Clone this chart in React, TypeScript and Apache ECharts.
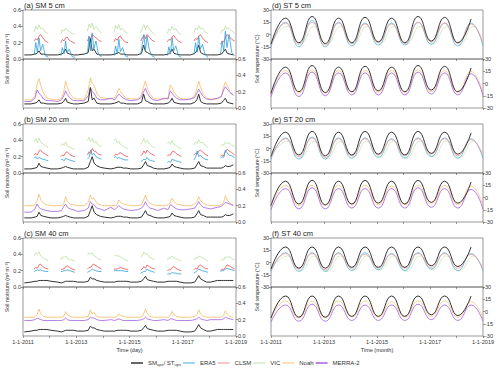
import React, { useEffect, useRef } from 'react';
import * as echarts from 'echarts';

const FONT = 'Liberation Sans, Arial, Helvetica, sans-serif';

// ---------- time positions (year - 2000) ----------
const YEARS = [11, 12, 13, 14, 15, 16, 17, 18];
// sample positions inside a year for warm-season (unfrozen) model segments
const EP_X = [0.42, 0.48, 0.54, 0.6, 0.66, 0.74, 0.84, 0.95];
// sample positions inside a year for continuous series
const CO_X = [0.05, 0.3, 0.45, 0.53, 0.6, 0.67, 0.77, 0.9];
// soil temperature: start, then alternating summer peak / winter trough, end
const ST_X = [11, 11.55, 12.05, 12.55, 13.05, 13.55, 14.05, 14.55, 15.05, 15.55, 16.05, 16.55, 17.05, 17.55, 18.05, 18.55, 19];
const X_TICK_LABELS = ['1-1-2011', '1-1-2013', '1-1-2015', '1-1-2017', '1-1-2019'];

// ---------- soil moisture, 5 cm (hundredths of m3 m-3), one row per year ----------
const vic5 = [
  [33, 40, 36, 42, 37, 38, 33, 31], [31, 36, 34, 38, 35, 34, 31, 30], [34, 43, 38, 44, 36, 40, 35, 32], [33, 41, 37, 42, 36, 37, 33, 31],
  [32, 38, 42, 36, 41, 37, 33, 30], [31, 37, 35, 40, 36, 37, 32, 30], [32, 38, 36, 41, 37, 38, 33, 31], [31, 36, 35, 40, 37, 38, 34, 32]];
const clsm5 = [
  [22, 25, 23, 28, 30, 26, 22, 20], [20, 24, 22, 26, 27, 23, 21, 19], [22, 27, 25, 30, 28, 26, 23, 21], [21, 25, 23, 27, 28, 24, 21, 20],
  [22, 26, 29, 25, 30, 27, 23, 21], [21, 24, 23, 27, 29, 25, 22, 20], [22, 25, 24, 28, 30, 26, 22, 20], [18, 22, 21, 26, 30, 28, 24, 22]];
const era5_5 = [
  [5, 20, 8, 26, 10, 18, 4, 2], [4, 14, 6, 22, 8, 12, 3, 2], [6, 28, 10, 32, 12, 22, 5, 3], [4, 16, 6, 24, 9, 14, 4, 2],
  [5, 18, 30, 10, 28, 12, 4, 2], [4, 15, 6, 26, 10, 16, 4, 2], [5, 20, 8, 28, 12, 18, 5, 2], [6, 22, 10, 34, 14, 30, 8, 4]];
const obs5 = [
  [5, 5, 6, 7, 10, 6, 6, 5], [5, 5, 6, 8, 12, 7, 6, 5], [5, 6, 8, 25, 10, 12, 6, 5], [5, 5, 6, 7, 8, 6, 6, 5],
  [5, 5, 7, 17, 9, 8, 6, 5], [5, 5, 6, 8, 12, 7, 6, 5], [5, 5, 7, 10, 17, 8, 6, 5], [5, 5, 6, 9, 12, 7, 6, 5]];
const noah5 = [
  [10, 10, 14, 30, 36, 27, 18, 12], [11, 10, 12, 20, 33, 25, 17, 12], [11, 11, 22, 37, 30, 28, 18, 13], [12, 11, 13, 18, 24, 20, 15, 12],
  [11, 11, 16, 26, 33, 24, 17, 12], [11, 11, 13, 28, 25, 20, 15, 12], [11, 11, 15, 24, 33, 25, 17, 12], [11, 11, 14, 25, 32, 28, 20, 15]];
const merra5 = [
  [8, 8, 12, 22, 18, 16, 11, 9], [9, 8, 10, 15, 21, 16, 12, 9], [9, 9, 15, 25, 20, 18, 12, 10], [10, 12, 10, 14, 17, 15, 12, 10],
  [9, 10, 13, 20, 24, 18, 13, 10], [9, 12, 11, 21, 18, 15, 12, 10], [10, 11, 13, 18, 23, 19, 14, 11], [10, 12, 14, 22, 26, 23, 19, 16]];

// ---------- soil moisture, 20 cm ----------
const vic20 = [
  [38, 42, 37, 43, 38, 36, 33, 31], [33, 36, 34, 38, 33, 32, 30, 29], [40, 44, 38, 42, 37, 39, 34, 32], [40, 42, 37, 39, 35, 33, 31, 30],
  [35, 38, 42, 37, 40, 36, 33, 31], [36, 38, 35, 40, 35, 34, 31, 30], [34, 38, 36, 41, 37, 38, 34, 31], [33, 35, 34, 38, 36, 37, 34, 32]];
const clsm20 = [
  [22, 24, 22, 27, 28, 25, 23, 21], [20, 22, 21, 25, 26, 23, 21, 20], [22, 26, 24, 30, 27, 26, 23, 22], [21, 23, 22, 24, 25, 23, 21, 20],
  [21, 23, 27, 24, 28, 25, 23, 21], [21, 22, 22, 26, 27, 24, 22, 20], [22, 24, 23, 27, 28, 26, 23, 21], [20, 22, 21, 26, 29, 27, 25, 22]];
const era20 = [
  [18, 20, 17, 19, 18, 17, 16, 15], [16, 17, 15, 18, 17, 16, 15, 14], [17, 19, 28, 22, 24, 20, 18, 17], [19, 20, 18, 19, 18, 17, 16, 16],
  [14, 15, 17, 16, 19, 16, 15, 14], [13, 14, 13, 17, 16, 15, 14, 13], [16, 19, 27, 20, 22, 19, 17, 16], [18, 20, 19, 28, 25, 22, 21, 19]];
const obs20 = [
  [5, 5, 6, 7, 12, 8, 7, 6], [5, 5, 6, 7, 8, 7, 6, 5], [5, 5, 7, 14, 20, 12, 9, 7], [6, 5, 6, 7, 7, 7, 6, 6],
  [5, 5, 6, 10, 14, 9, 8, 6], [5, 5, 6, 7, 11, 8, 7, 6], [5, 5, 6, 10, 14, 9, 8, 6], [6, 6, 6, 7, 9, 8, 8, 10]];
const noah20 = [
  [20, 20, 21, 26, 34, 27, 23, 21], [20, 20, 20, 22, 31, 25, 22, 21], [20, 20, 24, 33, 28, 29, 23, 21], [20, 20, 20, 21, 27, 24, 22, 21],
  [20, 20, 21, 27, 33, 26, 23, 21], [20, 20, 21, 24, 29, 25, 22, 21], [20, 20, 22, 25, 31, 26, 23, 21], [20, 20, 21, 24, 32, 27, 23, 21]];
const merra20 = [
  [12, 12, 16, 22, 18, 16, 15, 14], [13, 13, 14, 19, 22, 18, 16, 15], [13, 14, 17, 25, 22, 21, 17, 16], [14, 18, 15, 18, 20, 18, 16, 15],
  [14, 15, 17, 20, 25, 20, 17, 16], [14, 17, 15, 21, 20, 18, 16, 15], [15, 16, 17, 21, 25, 21, 18, 17], [16, 18, 19, 22, 24, 23, 22, 20]];

// ---------- soil moisture, 40 cm ----------
const vic40 = [
  [38, 42, 40, 43, 38, 36, 34, 32], [33, 37, 36, 38, 35, 34, 33, 32], [39, 42, 40, 42, 38, 37, 34, 33], [38, 39, 38, 38, 37, 35, 33, 32],
  [36, 38, 43, 40, 41, 37, 35, 33], [33, 36, 35, 38, 36, 35, 33, 32], [33, 36, 35, 38, 37, 36, 34, 32], [32, 34, 33, 37, 36, 37, 35, 33]];
const clsm40 = [
  [22, 24, 23, 27, 28, 25, 23, 22], [21, 22, 22, 25, 26, 24, 22, 21], [22, 24, 24, 27, 28, 26, 24, 22], [22, 22, 22, 23, 24, 23, 22, 21],
  [21, 22, 25, 23, 27, 25, 23, 22], [20, 21, 21, 24, 25, 23, 21, 20], [21, 23, 22, 26, 27, 25, 23, 22], [20, 22, 21, 24, 27, 26, 24, 22]];
const era40 = [
  [19, 20, 21, 20, 21, 20, 19, 19], [19, 19, 20, 20, 21, 20, 19, 18], [18, 19, 20, 22, 21, 20, 19, 19], [20, 20, 20, 20, 20, 20, 19, 19],
  [17, 18, 19, 19, 22, 20, 19, 18], [16, 16, 16, 18, 17, 17, 16, 16], [17, 18, 20, 22, 21, 20, 19, 18], [19, 20, 20, 22, 23, 22, 21, 20]];
const obs40 = [
  [5, 6, 7, 7, 8, 8, 8, 8], [7, 6, 5, 6, 7, 7, 7, 7], [6, 6, 7, 12, 10, 10, 8, 7], [6, 6, 6, 7, 7, 7, 7, 7],
  [6, 6, 7, 10, 13, 9, 8, 7], [6, 6, 7, 7, 7, 7, 7, 6], [5, 5, 6, 10, 14, 10, 8, 6], [6, 8, 8, 8, 8, 8, 8, 8]];
const noah40 = [
  [23, 23, 23, 26, 33, 27, 24, 23], [23, 23, 23, 24, 30, 26, 24, 23], [23, 23, 24, 32, 27, 29, 24, 23], [23, 23, 23, 24, 27, 25, 24, 23],
  [23, 23, 23, 27, 33, 27, 24, 23], [23, 23, 23, 25, 30, 26, 24, 23], [23, 23, 24, 26, 32, 27, 24, 23], [23, 23, 23, 25, 31, 27, 24, 23]];
const merra40 = [
  [19, 19, 20, 22, 21, 20, 19, 19], [19, 19, 19, 20, 22, 20, 19, 19], [19, 19, 20, 23, 22, 22, 20, 19], [19, 20, 19, 20, 21, 20, 19, 19],
  [19, 19, 20, 21, 23, 21, 20, 19], [19, 20, 19, 21, 21, 20, 19, 19], [19, 19, 20, 21, 23, 21, 20, 19], [20, 20, 20, 21, 23, 22, 21, 20]];

// ---------- soil temperature (°C) at ST_X positions ----------
const obsT5 = [-12, 20, -10, 22, -11, 20, -10, 21, -9, 20, -10, 22, -8, 21, -10, 19, '-'];
const eraT5 = [-15, 15, -15, 17, -15, 15, -14, 14, -13, 14, -13, 15, -12, 14, -14, 14, -14];
const clsmT5 = [-13, 14, -12, 15, -13, 14, -11, 13, -10, 13, -11, 15, -9, 14, -11, 13, -11];
const vicT5 = [-10, 10, -12, 10, -12, 10, -11, 10, -11, 10, -12, 10, -11, 10, -12, 10, -12];
const noahT5 = [-13, 16, -12, 17, -12, 16, -11, 16, -11, 16, -11, 17, -10, 16, -11, 15, -12];
const merraT5 = [-16, 13, -16, 14, -15, 13, -14, 13, -14, 13, -14, 14, -13, 13, -14, 12, -15];

const obsT20 = [-10, 20, -8, 21, -9, 20, -8, 21, -7, 20, -8, 21, -6, 20, -7, 19, '-'];
const eraT20 = [-13, 13, -13, 14, -13, 13, -12, 13, -11, 12, -12, 13, -10, 13, -12, 12, -12];
const clsmT20 = [-11, 12, -10, 13, -11, 12, -9, 12, -8, 11, -9, 12, -7, 12, -9, 11, -9];
const vicT20 = [-9, 9, -11, 9, -12, 9, -10, 9, -10, 9, -12, 9, -10, 9, -11, 9, -11];
const noahT20 = [-11, 15, -10, 15, -10, 15, -9, 15, -9, 14, -9, 15, -8, 15, -9, 14, -10];
const merraT20 = [-15, 11, -14, 12, -14, 11, -13, 11, -13, 11, -13, 12, -12, 11, -13, 10, -14];

const obsT40 = [-8, 19, -7, 19, -7, 19, -6, 19, -6, 19, -6, 19, -4, 19, -5, 19, '-'];
const eraT40 = [-11, 12, -11, 12, -11, 12, -10, 12, -9, 11, -10, 12, -8, 12, -10, 11, -10];
const clsmT40 = [-9, 11, -8, 11, -9, 11, -7, 10, -7, 10, -7, 11, -6, 11, -7, 10, -8];
const vicT40 = [-8, 8, -10, 8, -11, 8, -9, 8, -9, 8, -11, 8, -9, 8, -10, 8, -10];
const noahT40 = [-9, 13, -8, 13, -8, 13, -7, 13, -7, 12, -7, 13, -6, 13, -7, 12, -8];
const merraT40 = [-13, 8, -12, 9, -12, 8, -11, 8, -11, 8, -11, 9, -10, 8, -11, 8, -12];

const SM_TITLES = ['(a) SM 5 cm', '(b) SM 20 cm', '(c) SM 40 cm'];
const ST_TITLES = ['(d) ST 5 cm', '(e) ST 20 cm', '(f) ST 40 cm'];

const COLORS = {
  obs: '#333333', era: '#2f9fd8', clsm: '#e8353a', clsmT: '#f2a0a0', vic: '#b3da98', vicT: '#cfe7bb',
  noah: '#f5b24f', merra: '#a35ee0',
};

function episodeData(rows: number[][]) {
  const out: any[] = [];
  rows.forEach((r, yi) => {
    r.forEach((v, i) => out.push([YEARS[yi] + EP_X[i], v / 100]));
    out.push([YEARS[yi] + 0.97, '-']);
  });
  return out;
}
function continuousData(rows: number[][]) {
  const out: any[] = [];
  rows.forEach((r, yi) => r.forEach((v, i) => out.push([YEARS[yi] + CO_X[i], v / 100])));
  return out;
}
function stData(vals: any[], lag = 0) {
  return ST_X.map((x, i) => [i === 0 || i === ST_X.length - 1 ? x : x + lag, vals[i]]);
}

function buildOption() {
  const grids: any[] = [];
  const xAxes: any[] = [];
  const yAxes: any[] = [];
  const series: any[] = [];
  const gridIdx = (col: number, row: number, sub: number) => (col * 3 + row) * 2 + sub;

  for (let col = 0; col < 2; col++) {
    for (let row = 0; row < 3; row++) {
      for (let sub = 0; sub < 2; sub++) {
        const idx = grids.length;
        const isLast = row === 2 && sub === 1;
        grids.push({
          left: col ? 271 : 23, width: col ? 212 : 213, top: 10 + 114 * row + 49 * sub, height: 49,
          show: true, borderColor: '#555', borderWidth: 0.6, backgroundColor: 'transparent',
        });
        xAxes.push({
          type: 'value', gridIndex: idx, min: 11, max: 19, interval: 1,
          axisLine: { show: false, onZero: false }, splitLine: { show: false },
          axisTick: { show: true, length: 2, lineStyle: { color: '#555', width: 0.6 } },
          axisLabel: {
            show: isLast, fontSize: 5.5, color: '#333', margin: 3, fontFamily: FONT,
            formatter: (v: number) => (v % 2 === 1 ? X_TICK_LABELS[(v - 11) / 2] : ''),
          },
          name: isLast ? (col ? 'Time (month)' : 'Time (day)') : '',
          nameLocation: 'middle', nameGap: 11,
          nameTextStyle: { fontSize: 5.5, color: '#333', fontFamily: FONT },
        });
        yAxes.push({
          type: 'value', gridIndex: idx, position: sub ? 'right' : 'left',
          min: col ? -30 : 0, max: col ? 30 : 0.6, interval: col ? 15 : 0.2,
          axisLine: { show: false, onZero: false }, splitLine: { show: false },
          axisTick: { show: true, length: 2, lineStyle: { color: '#555', width: 0.6 } },
          axisLabel: {
            fontSize: 5.5, color: '#333', margin: 2, fontFamily: FONT,
            formatter: (v: number) => (col ? String(Math.round(v)) : v.toFixed(1)),
          },
        });
      }
    }
  }

  const line = (name: string, gi: number, data: any[], color: string, width: number, smooth = false, opacity = 1) => ({
    type: 'line', name, xAxisIndex: gi, yAxisIndex: gi, data, symbol: 'none', smooth,
    connectNulls: false, silent: true, z: 2,
    lineStyle: { color, width, opacity }, itemStyle: { color },
  });

  const smSets = [
    [obs5, vic5, clsm5, era5_5, noah5, merra5],
    [obs20, vic20, clsm20, era20, noah20, merra20],
    [obs40, vic40, clsm40, era40, noah40, merra40],
  ];
  smSets.forEach(([obs, vic, clsm, era, noah, merra], row) => {
    const top = gridIdx(0, row, 0);
    const bot = gridIdx(0, row, 1);
    series.push(line('obs', top, continuousData(obs), COLORS.obs, 1));
    series.push(line('VIC', top, episodeData(vic), COLORS.vic, 0.7));
    series.push(line('CLSM', top, episodeData(clsm), COLORS.clsm, 0.7));
    series.push(line('ERA5', top, episodeData(era), COLORS.era, 0.8));
    series.push(line('Noah', bot, continuousData(noah), COLORS.noah, 0.7));
    series.push(line('MERRA-2', bot, continuousData(merra), COLORS.merra, 0.8));
    series.push(line('obs', bot, continuousData(obs), COLORS.obs, 1));
  });

  const stSets = [
    [obsT5, eraT5, clsmT5, vicT5, noahT5, merraT5],
    [obsT20, eraT20, clsmT20, vicT20, noahT20, merraT20],
    [obsT40, eraT40, clsmT40, vicT40, noahT40, merraT40],
  ];
  stSets.forEach(([obs, era, clsm, vic, noah, merra], row) => {
    const top = gridIdx(1, row, 0);
    const bot = gridIdx(1, row, 1);
    series.push(line('VIC', top, stData(vic, 0.07), COLORS.vicT, 0.8, true));
    series.push(line('ERA5', top, stData(era), COLORS.era, 0.8, true, 0.8));
    series.push(line('CLSM', top, stData(clsm), COLORS.clsmT, 0.8, true));
    series.push(line('obs', top, stData(obs), COLORS.obs, 1, true));
    series.push(line('Noah', bot, stData(noah), COLORS.noah, 0.8, true, 0.7));
    series.push(line('MERRA-2', bot, stData(merra), COLORS.merra, 0.8, true));
    series.push(line('obs', bot, stData(obs), COLORS.obs, 1, true));
  });

  const graphic: any[] = [];
  for (let row = 0; row < 3; row++) {
    const ty = 10 + 114 * row - 5;
    graphic.push({ type: 'text', x: 24, y: ty, style: { text: SM_TITLES[row], fontSize: 7.5, fontFamily: FONT, fill: '#222', align: 'left', verticalAlign: 'middle' } });
    graphic.push({ type: 'text', x: 272, y: ty, style: { text: ST_TITLES[row], fontSize: 7.5, fontFamily: FONT, fill: '#222', align: 'left', verticalAlign: 'middle' } });
    const cy = 10 + 114 * row + 49;
    graphic.push({ type: 'text', x: 7, y: cy, rotation: Math.PI / 2, style: { text: 'Soil moisture (m³ m⁻³)', fontSize: 5.2, fontFamily: FONT, fill: '#333', align: 'center', verticalAlign: 'middle' } });
    graphic.push({ type: 'text', x: 257, y: cy, rotation: Math.PI / 2, style: { text: 'Soil temperature (°C)', fontSize: 5.2, fontFamily: FONT, fill: '#333', align: 'center', verticalAlign: 'middle' } });
  }

  const legendItem = (name: string, color: string) => ({ name, itemStyle: { color } });

  return {
    animation: false,
    backgroundColor: '#ffffff',
    grid: grids,
    xAxis: xAxes,
    yAxis: yAxes,
    series,
    graphic,
    legend: {
      left: 131, top: 360, icon: 'rect', itemWidth: 12, itemHeight: 1.5, itemGap: 2, padding: 0,
      selectedMode: false,
      textStyle: {
        fontSize: 6, color: '#333', fontFamily: FONT,
        rich: {
          n: { fontSize: 6, fontFamily: FONT, color: '#333' },
          s: { fontSize: 4, fontFamily: FONT, color: '#333', verticalAlign: 'bottom', padding: [3, 0, 0, 0] },
        },
      },
      formatter: (name: string) => (name === 'obs' ? '{n|SM}{s|ups}{n|/ ST}{s|ups}' : name),
      data: [
        legendItem('obs', COLORS.obs), legendItem('ERA5', '#7cc6ee'), legendItem('CLSM', '#f6b3b3'),
        legendItem('VIC', '#d6ecc6'), legendItem('Noah', '#fcd49e'), legendItem('MERRA-2', COLORS.merra),
      ],
    },
  };
}

export default function App() {
  const ref = useRef<HTMLDivElement>(null);
  useEffect(() => {
    if (!ref.current) return;
    const chart = echarts.init(ref.current, null, { renderer: 'svg' });
    chart.setOption(buildOption() as any);
    return () => chart.dispose();
  }, []);
  return <div ref={ref} style={{ position: 'fixed', left: 0, top: 0, width: 500, height: 375, background: '#fff' }} />;
}
